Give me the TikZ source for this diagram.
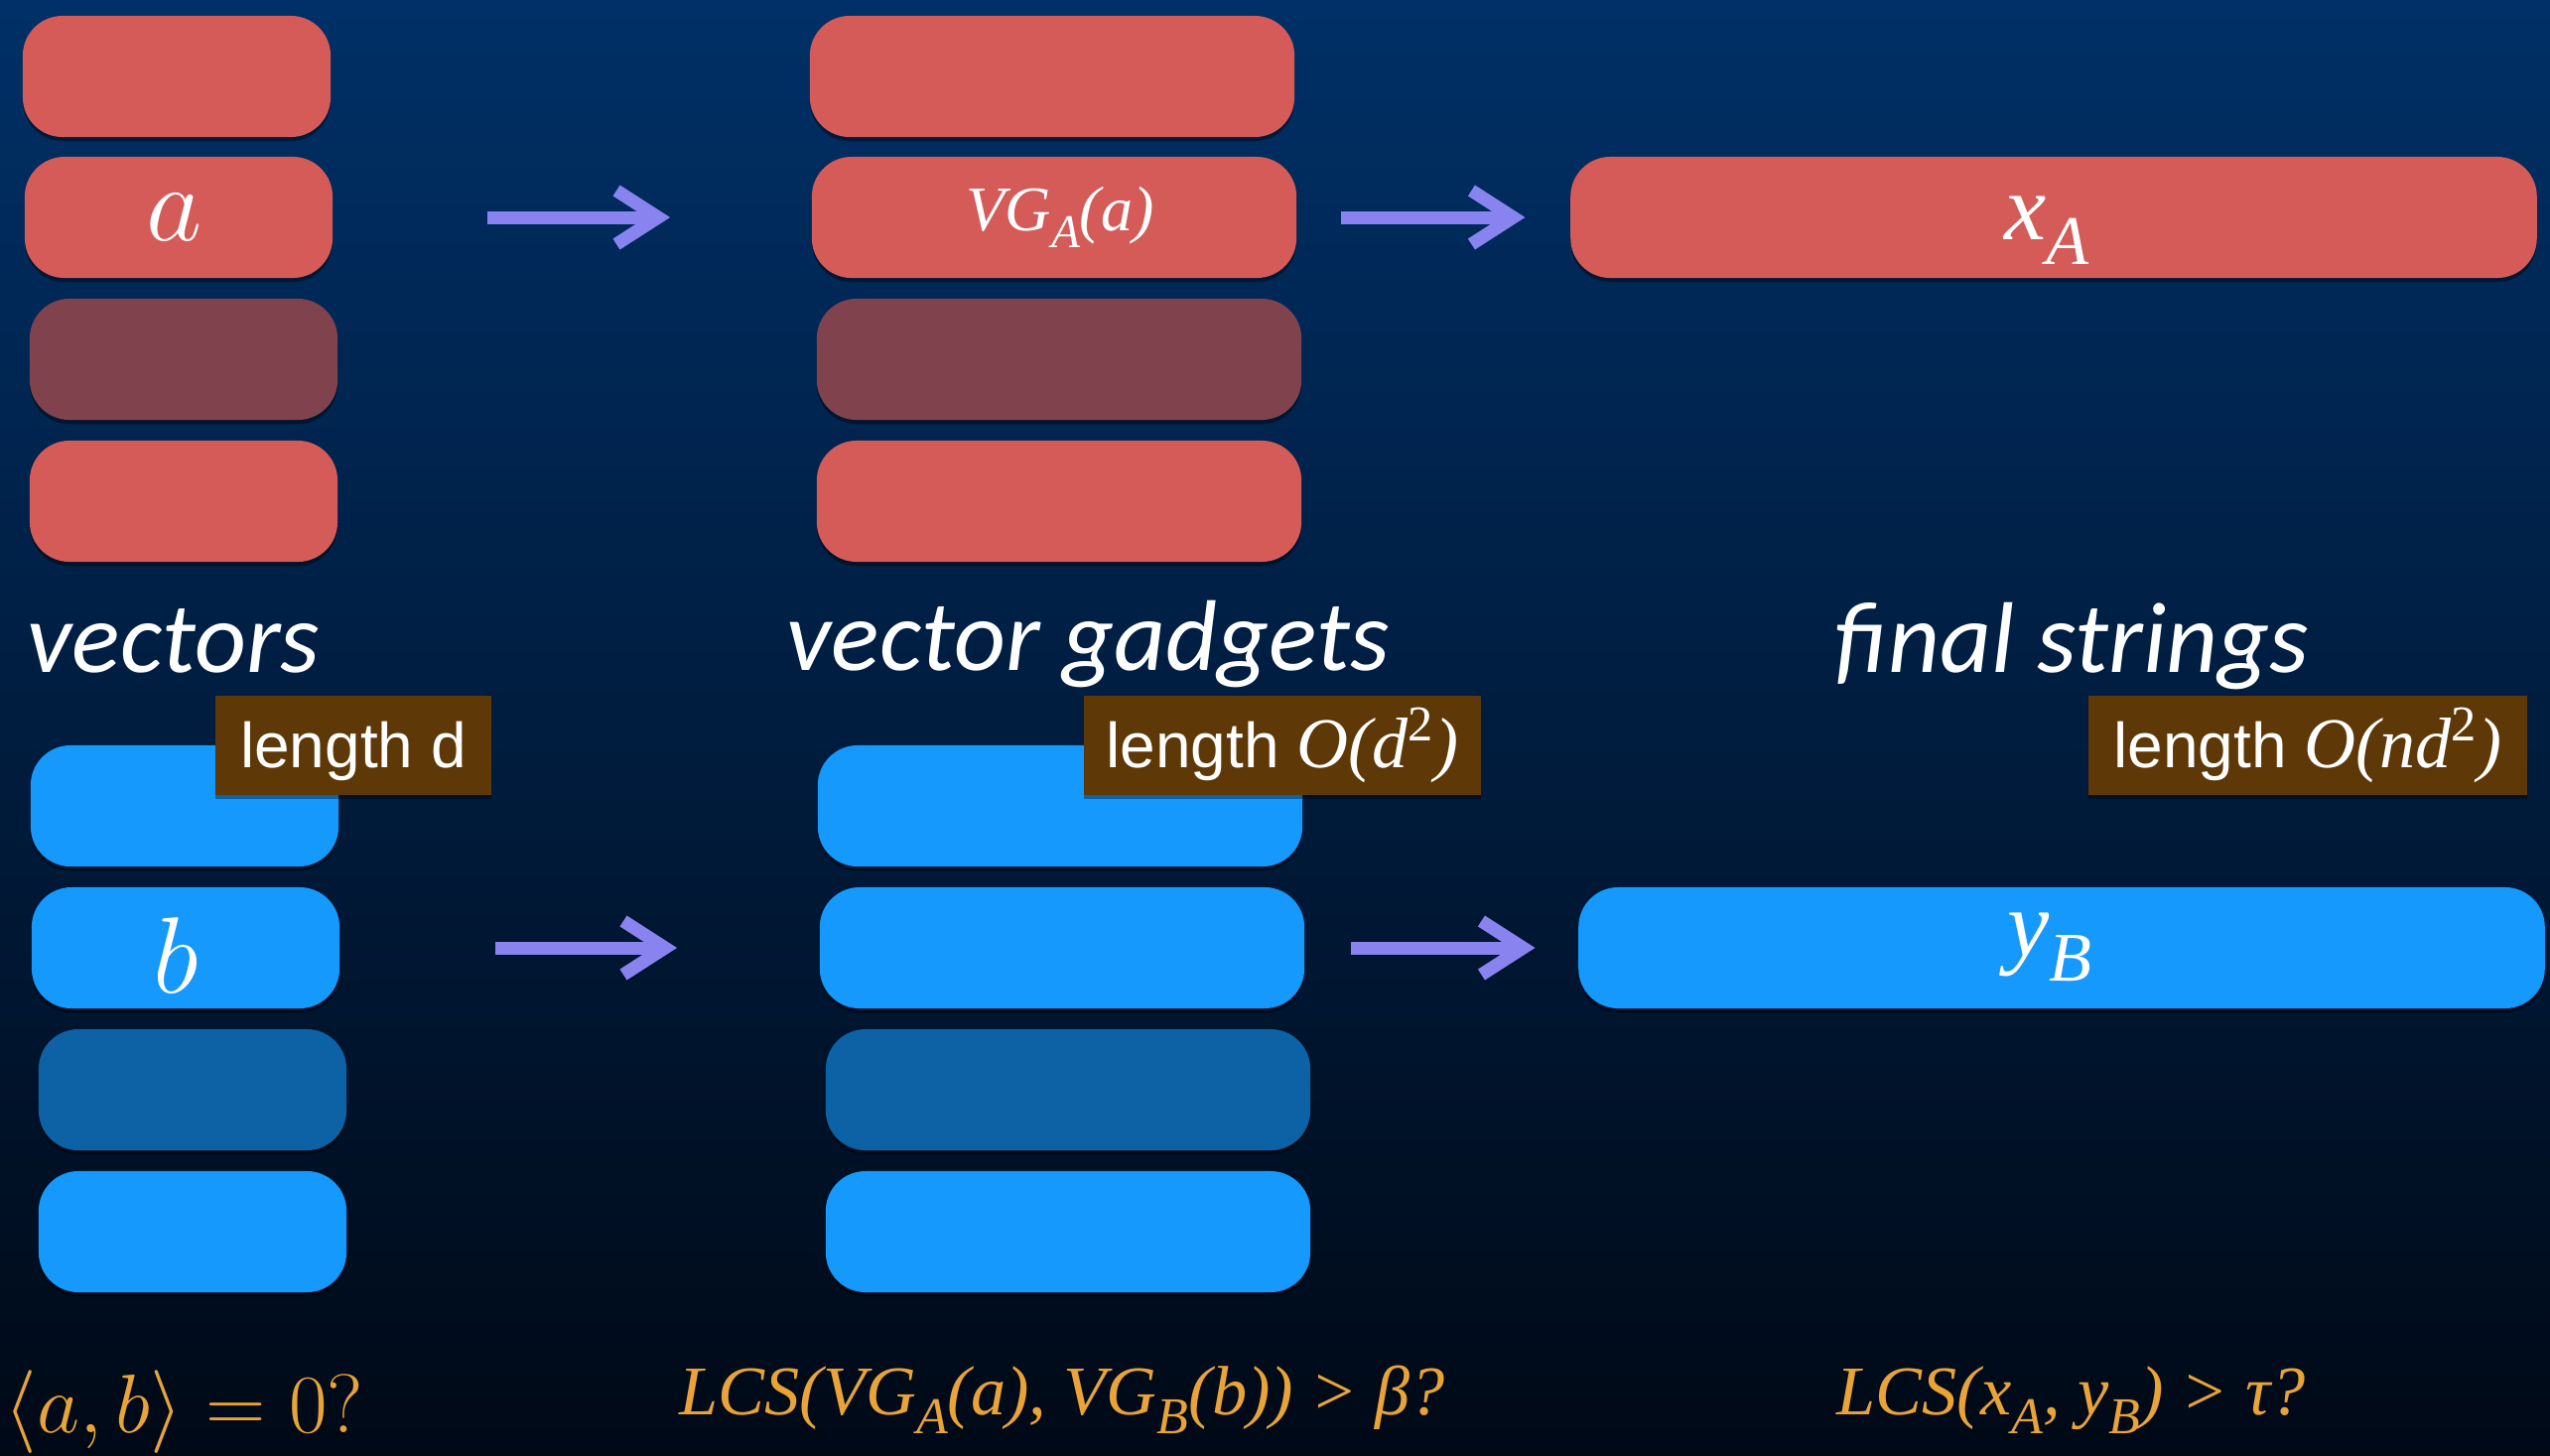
\documentclass[tikz,border=0pt]{standalone}
\usepackage{fontspec}
\usepackage{graphicx}
\usetikzlibrary{arrows.meta,shadows}
\newfontfamily\titlefont{Carlito}
\newfontfamily\tms{Liberation Serif}
\newfontfamily\lenfont{Liberation Sans}
\definecolor{bgtop}{RGB}{0,48,103}
\definecolor{bgbot}{RGB}{0,9,22}
\definecolor{vred}{RGB}{212,91,88}
\definecolor{vredd}{RGB}{128,67,77}
\definecolor{vblue}{RGB}{21,153,252}
\definecolor{vblued}{RGB}{13,98,165}
\definecolor{flowc}{RGB}{136,131,238}
\definecolor{lenbg}{RGB}{94,56,6}
\definecolor{qcol}{RGB}{233,163,55}
\newcommand\tsub[1]{\raisebox{-0.27em}{\scalebox{0.74}{#1}}}
\newcommand\bigmath[2]{\scalebox{#1}{\fontsize{24.88}{28}\selectfont$#2$}}
\begin{document}
\begin{tikzpicture}[x=0.01cm,y=-0.01cm,
  box/.style={rounded corners=0.4cm, inner sep=0pt, minimum height=1.22cm,
    drop shadow={shadow xshift=0pt, shadow yshift=-1.2pt, opacity=0.4, fill=black}},
  vec/.style={box, minimum width=3.1cm},
  gad/.style={box, minimum width=4.88cm},
  str/.style={box, minimum width=9.73cm},
  lenbox/.style={fill=lenbg, inner sep=0pt, text=white, minimum height=1.0cm,
    text height=0.55cm, text depth=0.11cm, font=\lenfont\fontsize{18.2}{20}\selectfont,
    drop shadow={shadow xshift=0pt, shadow yshift=-1pt, opacity=0.35, fill=black}},
  lbl/.style={text=white, inner sep=0pt, anchor=base west},
  title/.style={text=white, inner sep=0pt, anchor=base west, font=\titlefont\itshape\fontsize{28.8}{32}\selectfont},
  quest/.style={text=qcol, inner sep=0pt, anchor=base west},
  flow/.style={draw=flowc, line width=0.13cm, -{Straight Barb[length=0.42cm, width=0.54cm]}}]
  \useasboundingbox (0,0) rectangle (2569,1466);
  \fill[top color=bgtop, bottom color=bgbot] (0,0) rectangle (2569,1466);

  % vectors
  \node[vec, fill=vred]   (a1) at (178,77) {};
  \node[vec, fill=vred]   (a2) at (180,219) {};
  \node[vec, fill=vredd]  (a3) at (185,362) {};
  \node[vec, fill=vred]   (a4) at (185,505) {};
  \node[vec, fill=vblue]  (b1) at (186,812) {};
  \node[vec, fill=vblue]  (b2) at (187,955) {};
  \node[vec, fill=vblued] (b3) at (194,1098) {};
  \node[vec, fill=vblue]  (b4) at (194,1241) {};

  % vector gadgets
  \node[gad, fill=vred]   (ga1) at (1060,77) {};
  \node[gad, fill=vred]   (ga2) at (1062,219) {};
  \node[gad, fill=vredd]  (ga3) at (1067,362) {};
  \node[gad, fill=vred]   (ga4) at (1067,505) {};
  \node[gad, fill=vblue]  (gb1) at (1068,812) {};
  \node[gad, fill=vblue]  (gb2) at (1070,955) {};
  \node[gad, fill=vblued] (gb3) at (1076,1098) {};
  \node[gad, fill=vblue]  (gb4) at (1076,1241) {};

  % final strings
  \node[str, fill=vred]  (xa) at (2069,219) {};
  \node[str, fill=vblue] (yb) at (2077,955) {};

  % labels inside the boxes
  \node[lbl] (la) at (147,242) {\bigmath{1.25}{a}};
  \node[lbl] (lb) at (154,1000) {\bigmath{1.25}{b}};
  \node[lbl, font=\tms\itshape\fontsize{18.2}{20}\selectfont] (lva) at (973,232) {VG\tsub{A}(a)};
  \node[lbl, font=\tms\itshape\fontsize{27}{30}\selectfont] (lxa) at (2019,241) {x\tsub{A}};
  \node[lbl, font=\tms\itshape\fontsize{27}{30}\selectfont] (lyb) at (2022,963) {y\tsub{B}};

  \draw[flow, shorten <=1.55cm, shorten >=1.42cm] (a2) -- (ga2);
  \draw[flow, shorten <=0.44cm, shorten >=0.45cm] (ga2) -- (xa);
  \draw[flow, shorten <=1.56cm, shorten >=1.43cm] (b2) -- (gb2);
  \draw[flow, shorten <=0.46cm, shorten >=0.43cm] (gb2) -- (yb);

  \node[title] (tv) at (27,677) {vectors};
  \node[title] (tg) at (792,675) {vector gadgets};
  \node[title] (tf) at (1848,677) {final strings};

  \node[lenbox, minimum width=2.77cm] (ld) at (356,751) {length d};
  \node[lenbox, minimum width=4.0cm] (lg) at (1292,751) {length {\tms\itshape\fontsize{20.5}{22}\selectfont O(d\textsuperscript{\upshape 2})}};
  \node[lenbox, minimum width=4.41cm] (ln) at (2325,751) {length {\tms\itshape\fontsize{20.5}{22}\selectfont O(nd\textsuperscript{\upshape 2})}};

  \node[quest] (q1) at (4,1443) {\bigmath{0.957}{\langle a,b\rangle = 0?}};
  \node[quest, font=\tms\itshape\fontsize{20}{22}\selectfont] (q2) at (684,1425) {LCS(VG\tsub{A}(a), VG\tsub{B}(b)) > β?};
  \node[quest, font=\tms\itshape\fontsize{20}{22}\selectfont] (q3) at (1850,1425) {LCS(x\tsub{A}, y\tsub{B}) > τ?};
\end{tikzpicture}
\end{document}
